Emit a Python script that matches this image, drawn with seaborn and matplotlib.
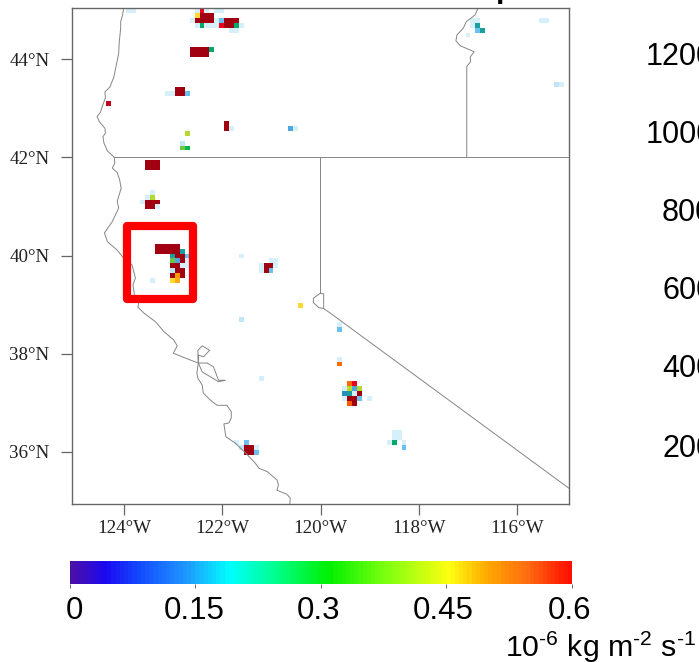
import numpy as np
import pandas as pd
import matplotlib
matplotlib.use("Agg")
import matplotlib.pyplot as plt
from matplotlib.colors import LinearSegmentedColormap
from matplotlib.patches import Rectangle
from matplotlib.transforms import ScaledTranslation
import seaborn as sns

# ---- emission cells, one row per latitude ----
row_lat = [45.0, 44.9, 44.8, 44.7, 44.6, 44.5, 44.2, 44.1, 43.5, 43.4, 43.3, 43.1, 42.7, 42.6, 42.5, 42.3, 42.2,
           41.9, 41.8, 41.3, 41.2, 41.1, 41.0, 40.2, 40.1, 40.0, 39.9, 39.8, 39.7, 39.6, 39.5, 39.0, 38.7, 38.6,
           38.5, 37.9, 37.8, 37.5, 37.4, 37.3, 37.2, 37.1, 37.0, 36.4, 36.3, 36.2, 36.1, 36.0]
row_lon = [
    [-123.9, -123.8, -122.5, -122.4, -122.3, -122.1, -122.0],
    [-122.5, -122.4, -122.3, -122.2],
    [-122.6, -122.5, -122.4, -122.3, -122.2, -122.1, -122.0, -121.9, -121.8, -121.7, -116.9, -116.8, -115.5, -115.4],
    [-122.5, -122.4, -122.3, -122.2, -122.1, -122.0, -121.9, -121.8, -121.7, -121.6, -116.9, -116.8],
    [-121.8, -121.7, -116.8, -116.7],
    [-117.0],
    [-122.6, -122.5, -122.4, -122.3, -122.2],
    [-122.6, -122.5, -122.4, -122.3],
    [-115.2, -115.1],
    [-122.9, -122.8],
    [-123.1, -123.0, -122.9, -122.8, -122.7],
    [-124.3],
    [-121.9],
    [-121.9, -121.8, -120.6, -120.5],
    [-122.7],
    [-122.8],
    [-122.8, -122.7],
    [-123.5, -123.4, -123.3],
    [-123.5, -123.4, -123.3],
    [-123.4],
    [-123.5, -123.4],
    [-123.6, -123.5, -123.4, -123.3],
    [-123.5, -123.4, -123.3],
    [-123.3, -123.2, -123.1, -123.0, -122.9],
    [-123.3, -123.2, -123.1, -123.0, -122.9, -122.8],
    [-123.0, -122.9, -122.8, -122.7, -121.6],
    [-123.0, -122.9, -122.8, -122.7, -121.0, -120.9],
    [-123.0, -122.9, -122.8, -122.7, -121.2, -121.1, -121.0, -120.9],
    [-123.0, -122.9, -122.8, -121.2, -121.1, -121.0],
    [-123.0, -122.9, -122.8],
    [-123.4, -123.0, -122.9],
    [-120.4],
    [-121.6],
    [-119.6],
    [-119.6],
    [-119.6],
    [-119.6],
    [-121.2],
    [-119.4, -119.3],
    [-119.5, -119.4, -119.3, -119.2],
    [-119.5, -119.4, -119.3, -119.2],
    [-119.5, -119.4, -119.3, -119.2, -119.0],
    [-119.4, -119.3],
    [-118.5, -118.4],
    [-118.5, -118.4],
    [-121.7, -121.5, -118.6, -118.5, -118.3],
    [-121.6, -121.5, -121.4, -121.3, -118.3],
    [-121.5, -121.4, -121.3],
]
row_val = [
    [.02, .02, .02, .56, .02, .02, .02],
    [.42, .7, .7, .7],
    [.02, .7, .7, .7, .7, .02, .08, .7, .7, .7, .02, .02, .02, .02],
    [.02, .21, .02, .02, .02, .56, .7, .7, .21, .02, .02, .17],
    [.02, .02, .08, .17],
    [.02],
    [.7, .7, .7, .7, .21],
    [.7, .7, .7, .7],
    [.04, .02],
    [.7, .7],
    [.02, .02, .7, .7, .08],
    [.58],
    [.7],
    [.7, .02, .11, .02],
    [.37],
    [.04],
    [.32, .26],
    [.7, .7, .7],
    [.7, .7, .7],
    [.02],
    [.02, .37],
    [.02, .7, .7, .7],
    [.7, .7, .02],
    [.7, .7, .7, .7, .7],
    [.7, .7, .7, .7, .7, .17],
    [.17, .7, .7, .08, .02],
    [.32, .11, .7, .02, .02, .02],
    [.7, .7, .02, .02, .02, .7, .7, .02],
    [.04, .7, .7, .02, .7, .08],
    [.7, .48, .7],
    [.02, .42, .46],
    [.42],
    [.04],
    [.02],
    [.08],
    [.02],
    [.52],
    [.02],
    [.52, .56],
    [.02, .37, .11, .37],
    [.14, .17, .02, .7],
    [.02, .7, .7, .08, .02],
    [.53, .7],
    [.02, .02],
    [.02, .02],
    [.02, .08, .02, .21, .02],
    [.04, .7, .7, .02, .08],
    [.7, .7, .08],
]

# ---- map outlines, degrees ----
coast_lon = [-124.01, -124.03, -124.07, -124.07, -124.10, -124.11, -124.15, -124.21, -124.29, -124.39, -124.38,
             -124.45, -124.48, -124.55, -124.50, -124.39, -124.38, -124.43, -124.41, -124.34, -124.20, -124.19,
             -124.24, -124.14, -124.09, -124.06, -124.14, -124.11, -124.24, -124.40, -124.34, -124.14, -124.03,
             -123.84, -123.77, -123.82, -123.79, -123.70, -123.72, -123.60, -123.36, -123.19, -122.99, -122.92,
             -123.00, -122.75, -122.49, -122.52, -122.50, -122.41, -122.39, -122.25, -122.11, -121.91, -121.82,
             -121.82, -121.87, -121.97, -121.93, -121.74, -121.53, -121.33, -121.26, -121.09, -120.89, -120.86,
             -120.89, -120.69, -120.62, -120.63]
coast_lat = [45.04, 44.90, 44.76, 44.63, 44.33, 44.12, 43.92, 43.63, 43.43, 43.33, 43.21, 43.02, 42.92, 42.83,
             42.72, 42.59, 42.49, 42.42, 42.29, 42.13, 42.00, 41.88, 41.78, 41.69, 41.54, 41.37, 41.10, 40.97,
             40.69, 40.46, 40.28, 40.11, 39.97, 39.81, 39.54, 39.40, 39.20, 39.04, 38.95, 38.83, 38.65, 38.45,
             38.28, 38.16, 38.01, 37.91, 37.81, 37.61, 37.50, 37.36, 37.20, 37.06, 36.95, 36.95, 36.82, 36.69,
             36.59, 36.57, 36.31, 36.18, 35.98, 35.77, 35.67, 35.60, 35.43, 35.33, 35.22, 35.14, 35.06, 34.94]
bay_north_lon = [-122.49, -122.50, -122.41, -122.26, -122.38, -122.49, -122.49]
bay_north_lat = [37.81, 38.07, 38.16, 38.07, 37.94, 37.97, 37.81]
bay_south_lon = [-122.49, -122.31, -122.18, -122.08, -121.94, -122.08, -122.41, -122.49]
bay_south_lat = [37.81, 37.81, 37.73, 37.46, 37.46, 37.43, 37.63, 37.81]
tahoe_lon = [-120.01, -120.15, -120.15, -120.04, -119.94, -119.94, -120.01]
tahoe_lat = [39.23, 39.13, 39.04, 38.94, 38.92, 39.22, 39.23]
north_border_lon = [-124.20, -114.95]
north_border_lat = [42.0, 42.0]
nevada_west_lon = [-120.01, -120.01]
nevada_west_lat = [42.0, 39.23]
nevada_south_lon = [-119.94, -119.81, -114.95]
nevada_south_lat = [38.92, 38.83, 35.26]
idaho_lon = [-116.80, -116.86, -117.04, -117.10, -117.23, -117.25, -117.16, -116.88, -116.96, -116.95, -117.03, -117.03]
idaho_lat = [45.04, 44.90, 44.76, 44.63, 44.49, 44.37, 44.27, 44.15, 44.04, 43.95, 43.85, 42.00]

box_lon = [-123.94, -122.59]
box_lat = [39.11, 40.61]

lon_ticks = [-124, -122, -120, -118, -116]
lat_ticks = [36, 38, 40, 42, 44]
lon_labels = ["124°W", "122°W", "120°W", "118°W", "116°W"]
lat_labels = ["36°N", "38°N", "40°N", "42°N", "44°N"]

bar_ticks = [0, 0.15, 0.3, 0.45, 0.6]
bar_labels = ["0", "0.15", "0.3", "0.45", "0.6"]
unit_label = r"10$^{\text{-6}}$ kg m$^{\text{-2}}$ s$^{\text{-1}}$"

neighbour_labels = ["1200", "1000", "800", "600", "400", "200"]
neighbour_left_px = [646, 646, 662, 662, 662, 662]
neighbour_y_px = [57, 135, 213, 291, 369, 449]

# ---- colours ----
cell_anchors = [(0.00, "#E4F5FC"), (0.02, "#D6F0FA"), (0.04, "#BEE6F8"), (0.08, "#6CC0EE"), (0.11, "#4FA5DE"),
                (0.14, "#2B8CC4"), (0.17, "#1B9E9E"), (0.21, "#00A86B"), (0.26, "#00B84A"), (0.32, "#6CC644"),
                (0.37, "#B5D92E"), (0.42, "#FFD92F"), (0.46, "#FFA91F"), (0.48, "#FF9A00"), (0.52, "#FF6A00"),
                (0.53, "#FF5A00"), (0.56, "#E8001F"), (0.58, "#C00018"), (0.60, "#C00018")]
bar_anchors = [(0.00, "#4B10A8"), (0.04, "#1A08F0"), (0.08, "#1448FF"), (0.14, "#1E9CFF"), (0.19, "#00FFFF"),
               (0.24, "#00FF99"), (0.31, "#00F000"), (0.38, "#80FF10"), (0.455, "#FFFF10"), (0.50, "#FFAA00"),
               (0.55, "#FF6A10"), (0.60, "#FF1000")]


def ramp(anchors, name):
    return LinearSegmentedColormap.from_list(name, [(v / 0.6, c) for v, c in anchors], N=512)


cell_cmap = ramp(cell_anchors, "cells")
cell_cmap.set_over("#A0000F")
bar_cmap = ramp(bar_anchors, "bar")

# ---- figure ----
sns.set_theme(style="white")
plt.rcParams["font.family"] = ["Liberation Sans", "DejaVu Sans"]
plt.rcParams["mathtext.fontset"] = "custom"
plt.rcParams["mathtext.rm"] = "Liberation Sans"
plt.rcParams["mathtext.default"] = "rm"

W, H = 699, 662
fig = plt.figure(figsize=(W / 100, H / 100), dpi=100, facecolor="white")


def box_axes(left, top, right, bottom):
    return fig.add_axes([left / W, 1 - bottom / H, (right - left) / W, (bottom - top) / H])


# emission grid on a 0.1 degree lattice
grid = np.full((101, 101), np.nan)
for lat, lons, vals in zip(row_lat, row_lon, row_val):
    for lon, val in zip(lons, vals):
        grid[int(round((45 - lat) * 10)), int(round((lon + 125) * 10))] = val
frame = pd.DataFrame(grid)

ax = box_axes(71.5, 8, 569, 504)
sns.heatmap(frame, ax=ax, mask=frame.isna(), cmap=cell_cmap, vmin=0, vmax=0.6, cbar=False,
            xticklabels=False, yticklabels=False, square=False)
ax.set_xlabel("")
ax.set_ylabel("")

geo = box_axes(71.5, 8, 569, 504)
geo.patch.set_alpha(0)
geo.set_xlim(-125.07, -114.95)
geo.set_ylim(34.94, 45.04)
line_kw = dict(color="#858585", lw=0.7, solid_joinstyle="round", clip_on=True)
for xs, ys in [(coast_lon, coast_lat), (bay_north_lon, bay_north_lat), (bay_south_lon, bay_south_lat),
               (tahoe_lon, tahoe_lat), (north_border_lon, north_border_lat), (nevada_west_lon, nevada_west_lat),
               (nevada_south_lon, nevada_south_lat), (idaho_lon, idaho_lat)]:
    geo.plot(xs, ys, **line_kw)
geo.add_patch(Rectangle((box_lon[0], box_lat[0]), box_lon[1] - box_lon[0], box_lat[1] - box_lat[0],
                        fill=False, edgecolor="#FF0000", lw=5.9, joinstyle="round", zorder=5))
geo.set_xticks(lon_ticks, lon_labels, family="Liberation Serif", fontsize=13.7, color="#222222")
geo.set_yticks(lat_ticks, lat_labels, family="Liberation Serif", fontsize=13.7, color="#222222")
geo.tick_params(axis="x", length=8, width=0.9, color="#666666", pad=3.8, bottom=True)
geo.tick_params(axis="y", length=8, width=0.9, color="#666666", pad=8, left=True)
for s in geo.spines.values():
    s.set_visible(True)
    s.set_color("#666666")
    s.set_linewidth(1.0)

# colour bar drawn as a heatmap ramp
cax = box_axes(69.6, 561, 572, 584)
bar_steps = np.linspace(0, 0.6, 120).reshape(1, -1)
sns.heatmap(bar_steps, ax=cax, cmap=bar_cmap, vmin=0, vmax=0.6, cbar=False, xticklabels=False, yticklabels=False)
cax.set_xticks([t / 0.6 * 120 for t in bar_ticks], bar_labels, fontsize=22.5, color="black", rotation=0)
cax.tick_params(axis="x", length=3, width=0.7, color="#666666", pad=5.5, bottom=True)
for lab, dx in zip(cax.get_xticklabels(), [5, -1, -2.5, -3.5, -2.5]):
    lab.set_transform(lab.get_transform() + ScaledTranslation(dx / 100, 0, fig.dpi_scale_trans))

fig.text(505 / W, 1 - 657 / H, unit_label, fontsize=21.8, color="black", ha="left", va="baseline")

# parts of the neighbouring panel that the crop cuts off
for text, x, y in zip(neighbour_labels, neighbour_left_px, neighbour_y_px):
    fig.text(x / W, 1 - y / H, text, fontsize=22, color="black", ha="left", va="center")
fig.text(495.5 / W, 1 + 3 / H, "p", fontsize=22, fontweight="bold", color="black", ha="left", va="baseline")

fig.savefig("out.png", dpi=100)
